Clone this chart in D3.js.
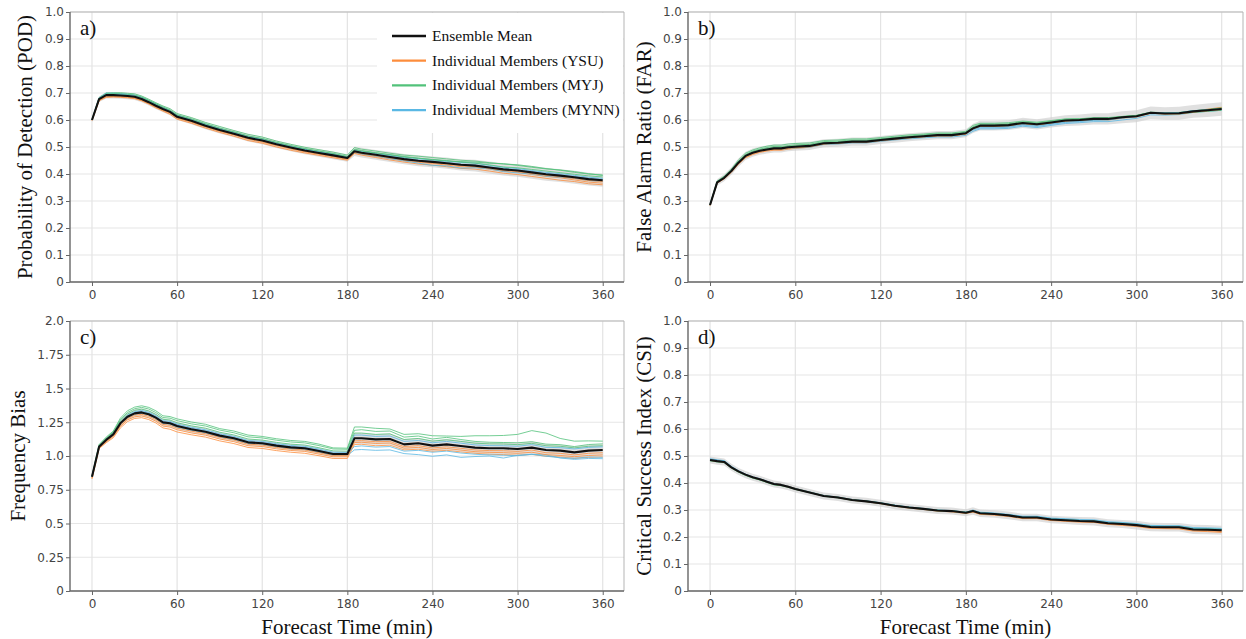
<!DOCTYPE html>
<html><head><meta charset="utf-8">
<script src="https://cdn.jsdelivr.net/npm/d3@7"></script>
<style>body{margin:0;background:#fff}svg{display:block}</style>
</head><body>
<svg id="chart" width="1246" height="639"></svg>
<script>
// ---------------- DATA ----------------
const times = [0,5,10,15,20,25,30,35,40,45,50,55,60,70,80,90,100,110,120,130,140,150,160,170,180,185,190,200,210,220,230,240,250,260,270,280,290,300,310,320,330,340,350,360];
const xTicks = [0,60,120,180,240,300,360];
const unitTicks = [0,0.1,0.2,0.3,0.4,0.5,0.6,0.7,0.8,0.9,1.0];
const unitTickLabels = ["0","0.1","0.2","0.3","0.4","0.5","0.6","0.7","0.8","0.9","1.0"];
const biasTicks = [0,0.25,0.5,0.75,1.0,1.25,1.5,1.75,2.0];
const biasTickLabels = ["0","0.25","0.5","0.75","1.0","1.25","1.5","1.75","2.0"];
const legendLabels = ["Ensemble Mean","Individual Members (YSU)","Individual Members (MYJ)","Individual Members (MYNN)"];
const panelLetters = ["a)","b)","c)","d)"];
const yTitles = ["Probability of Detection (POD)","False Alarm Ratio (FAR)","Frequency Bias","Critical Success Index (CSI)"];
const xTitle = "Forecast Time (min)";

// a) POD
const podMean = [.600,.677,.692,.692,.691,.689,.686,.678,.666,.653,.641,.630,.612,.597,.579,.563,.549,.534,.524,.510,.498,.487,.478,.469,.459,.484,.479,.471,.463,.455,.449,.445,.440,.434,.431,.424,.417,.413,.406,.399,.394,.388,.381,.377];
const podSpread = [.008,.010,.012,.012,.012,.012,.012,.012,.012,.012,.012,.012,.012,.013,.013,.013,.013,.014,.014,.014,.014,.014,.014,.014,.014,.017,.018,.018,.019,.019,.020,.020,.021,.021,.022,.022,.023,.023,.024,.024,.024,.024,.024,.024];
const podYSU = [
 [.598,.671,.684,.685,.684,.682,.679,.671,.659,.645,.633,.621,.603,.588,.570,.554,.540,.524,.514,.500,.488,.478,.469,.460,.451,.476,.470,.461,.452,.444,.437,.433,.427,.421,.418,.411,.403,.398,.391,.384,.377,.372,.364,.360],
 [.599,.673,.686,.687,.686,.684,.681,.673,.661,.648,.636,.625,.607,.592,.574,.558,.545,.529,.518,.505,.493,.482,.473,.464,.454,.478,.473,.465,.457,.449,.443,.439,.433,.427,.425,.418,.410,.406,.398,.391,.386,.378,.370,.366],
 [.600,.675,.689,.689,.688,.686,.683,.675,.663,.650,.638,.627,.609,.594,.576,.560,.546,.531,.521,.507,.495,.484,.475,.466,.456,.481,.476,.468,.460,.452,.447,.442,.437,.431,.428,.421,.414,.409,.402,.395,.390,.383,.376,.372]];
const podMYJ = [
 [.601,.683,.700,.701,.701,.699,.697,.689,.677,.664,.652,.642,.624,.609,.591,.576,.561,.547,.537,.522,.510,.499,.490,.481,.470,.498,.492,.485,.477,.470,.466,.461,.456,.451,.448,.442,.437,.434,.428,.420,.414,.406,.400,.396],
 [.600,.680,.697,.698,.697,.695,.692,.685,.673,.660,.648,.637,.619,.604,.586,.570,.556,.541,.531,.517,.505,.494,.485,.476,.465,.492,.487,.479,.471,.463,.458,.454,.450,.444,.440,.434,.426,.423,.417,.411,.405,.399,.393,.389],
 [.600,.679,.695,.696,.695,.693,.691,.683,.672,.659,.646,.635,.618,.603,.585,.569,.555,.540,.531,.516,.504,.493,.484,.475,.464,.490,.485,.478,.472,.465,.459,.453,.448,.446,.444,.440,.438,.432,.425,.419,.415,.409,.401,.395]];
const podMYNN = [
 [.601,.682,.699,.699,.698,.695,.692,.684,.672,.659,.646,.635,.617,.601,.583,.567,.553,.538,.528,.514,.502,.491,.482,.473,.462,.488,.484,.476,.469,.462,.457,.452,.448,.443,.440,.432,.425,.420,.413,.406,.401,.395,.388,.384],
 [.600,.678,.694,.694,.693,.691,.688,.680,.668,.655,.643,.632,.614,.598,.580,.564,.550,.535,.525,.511,.499,.488,.479,.470,.460,.480,.474,.466,.457,.449,.440,.432,.430,.422,.423,.419,.409,.404,.400,.392,.388,.384,.376,.372],
 [.600,.679,.695,.695,.694,.692,.689,.681,.669,.656,.644,.633,.615,.600,.582,.566,.552,.537,.527,.513,.501,.490,.481,.472,.461,.486,.481,.472,.466,.458,.452,.448,.444,.437,.434,.427,.421,.416,.410,.402,.397,.391,.384,.380]];

// b) FAR
const farMean = [.285,.369,.386,.411,.442,.467,.479,.486,.491,.495,.495,.499,.501,.504,.514,.516,.520,.520,.526,.531,.536,.540,.544,.544,.551,.569,.579,.579,.581,.589,.584,.591,.598,.600,.604,.604,.610,.614,.627,.624,.625,.632,.636,.641];
const farSpread = [.008,.012,.013,.014,.015,.015,.015,.015,.015,.015,.015,.015,.015,.015,.015,.015,.015,.015,.015,.015,.015,.015,.015,.015,.015,.017,.018,.018,.018,.019,.019,.019,.020,.020,.021,.021,.022,.022,.023,.023,.024,.024,.025,.025];
const farYSU = [
 [.283,.366,.382,.406,.436,.460,.472,.480,.485,.488,.488,.492,.495,.499,.510,.512,.516,.516,.522,.527,.532,.536,.540,.540,.547,.566,.576,.576,.577,.585,.581,.588,.595,.598,.601,.602,.608,.613,.626,.625,.625,.632,.638,.645],
 [.284,.367,.384,.408,.439,.463,.475,.483,.488,.491,.491,.495,.497,.501,.511,.514,.518,.518,.524,.529,.534,.538,.542,.542,.549,.568,.578,.578,.580,.588,.583,.590,.597,.600,.604,.603,.609,.614,.628,.626,.626,.633,.640,.647],
 [.284,.368,.385,.410,.440,.465,.477,.484,.489,.493,.493,.497,.499,.503,.512,.515,.519,.519,.525,.530,.535,.539,.543,.543,.550,.567,.577,.577,.579,.587,.582,.589,.596,.598,.602,.600,.607,.611,.625,.622,.622,.629,.634,.639]];
const farMYJ = [
 [.287,.374,.392,.418,.452,.477,.489,.497,.503,.507,.507,.511,.513,.515,.524,.526,.530,.530,.535,.540,.545,.548,.552,.552,.558,.580,.588,.588,.590,.596,.592,.598,.604,.605,.608,.609,.613,.617,.628,.626,.626,.633,.638,.644],
 [.286,.372,.390,.414,.447,.472,.485,.492,.498,.502,.502,.505,.508,.510,.520,.522,.526,.526,.531,.536,.541,.545,.549,.549,.555,.575,.585,.585,.586,.593,.589,.596,.603,.604,.608,.606,.612,.616,.625,.623,.623,.628,.632,.636],
 [.285,.371,.388,.413,.445,.470,.482,.490,.495,.499,.499,.503,.505,.508,.517,.519,.523,.523,.529,.534,.538,.542,.546,.547,.553,.572,.582,.582,.584,.591,.587,.593,.600,.602,.606,.607,.613,.617,.629,.627,.628,.634,.639,.645]];
const farMYNN = [
 [.284,.368,.386,.411,.442,.466,.478,.485,.489,.492,.491,.494,.496,.499,.509,.511,.515,.515,.521,.526,.530,.534,.537,.537,.543,.558,.567,.567,.569,.577,.572,.580,.587,.590,.594,.594,.600,.606,.619,.618,.620,.628,.632,.636],
 [.285,.370,.387,.412,.443,.468,.480,.487,.492,.496,.496,.500,.502,.505,.515,.517,.521,.521,.527,.532,.537,.541,.545,.545,.552,.566,.574,.574,.576,.584,.579,.586,.593,.596,.600,.601,.608,.613,.627,.625,.626,.634,.638,.642],
 [.285,.369,.386,.411,.442,.467,.479,.486,.491,.495,.495,.499,.501,.504,.513,.515,.519,.519,.525,.530,.535,.539,.543,.543,.550,.563,.571,.571,.573,.581,.576,.584,.591,.594,.599,.600,.607,.612,.628,.627,.627,.635,.637,.640]];

// c) Frequency Bias
const biasMean = [.847,1.069,1.119,1.160,1.242,1.291,1.316,1.323,1.309,1.284,1.249,1.242,1.222,1.198,1.180,1.151,1.131,1.101,1.094,1.077,1.064,1.057,1.037,1.015,1.015,1.131,1.131,1.123,1.126,1.086,1.094,1.077,1.086,1.074,1.062,1.057,1.057,1.052,1.062,1.044,1.040,1.027,1.040,1.044];
const biasSpread = [.008,.015,.018,.020,.025,.028,.030,.030,.030,.030,.028,.028,.028,.028,.027,.026,.025,.025,.025,.024,.024,.024,.024,.022,.022,.040,.040,.040,.040,.040,.040,.040,.041,.041,.042,.043,.045,.047,.045,.043,.043,.043,.043,.043];
const biasYSU = [
 [.830,1.055,1.098,1.135,1.208,1.255,1.278,1.284,1.270,1.245,1.208,1.198,1.178,1.157,1.140,1.112,1.092,1.063,1.056,1.040,1.028,1.020,1.002,.982,.982,1.085,1.087,1.076,1.080,1.045,1.050,1.035,1.042,1.030,1.020,1.013,1.010,1.005,1.012,.998,.993,.982,.990,.994],
 [.836,1.060,1.105,1.144,1.220,1.268,1.290,1.297,1.283,1.258,1.222,1.214,1.194,1.171,1.154,1.126,1.106,1.076,1.070,1.053,1.041,1.034,1.014,.994,.994,1.100,1.102,1.093,1.096,1.058,1.064,1.048,1.056,1.044,1.032,1.027,1.025,1.020,1.028,1.010,1.004,.995,1.004,1.008],
 [.842,1.064,1.112,1.152,1.230,1.278,1.302,1.309,1.295,1.270,1.234,1.227,1.207,1.184,1.166,1.138,1.118,1.088,1.081,1.064,1.052,1.045,1.025,1.004,1.004,1.112,1.114,1.106,1.108,1.070,1.077,1.060,1.068,1.057,1.045,1.040,1.039,1.034,1.044,1.024,1.020,1.008,1.020,1.024]];
const biasMYJ = [
 [.852,1.085,1.140,1.185,1.280,1.335,1.362,1.372,1.360,1.335,1.298,1.292,1.275,1.252,1.235,1.203,1.185,1.155,1.145,1.128,1.115,1.108,1.088,1.060,1.058,1.215,1.215,1.205,1.200,1.160,1.165,1.150,1.148,1.145,1.150,1.150,1.152,1.160,1.188,1.170,1.130,1.110,1.112,1.110],
 [.850,1.080,1.133,1.178,1.268,1.322,1.350,1.360,1.348,1.322,1.285,1.280,1.262,1.238,1.222,1.192,1.172,1.142,1.134,1.117,1.104,1.097,1.077,1.052,1.050,1.190,1.195,1.182,1.185,1.140,1.148,1.126,1.138,1.122,1.108,1.102,1.100,1.098,1.106,1.088,1.084,1.070,1.085,1.090],
 [.848,1.075,1.128,1.172,1.258,1.310,1.338,1.347,1.334,1.308,1.272,1.266,1.246,1.223,1.206,1.176,1.156,1.126,1.118,1.101,1.088,1.081,1.061,1.038,1.036,1.170,1.170,1.160,1.164,1.122,1.130,1.110,1.120,1.108,1.095,1.090,1.089,1.084,1.094,1.076,1.072,1.060,1.072,1.076]];
const biasMYNN = [
 [.845,1.068,1.116,1.156,1.236,1.285,1.310,1.318,1.304,1.278,1.242,1.235,1.214,1.190,1.172,1.142,1.122,1.092,1.085,1.068,1.055,1.048,1.028,1.006,1.005,1.045,1.048,1.042,1.045,1.018,1.010,.998,1.008,.990,.996,1.000,.985,1.005,1.012,1.008,.985,.975,.982,.980],
 [.846,1.070,1.120,1.162,1.245,1.296,1.322,1.330,1.316,1.290,1.254,1.248,1.228,1.204,1.186,1.157,1.137,1.107,1.100,1.083,1.070,1.063,1.043,1.020,1.018,1.070,1.075,1.066,1.070,1.036,1.042,1.028,1.036,1.022,1.013,1.008,1.006,1.002,1.013,.998,.988,.983,.993,.990],
 [.848,1.072,1.124,1.166,1.250,1.302,1.328,1.337,1.323,1.298,1.262,1.256,1.236,1.212,1.194,1.165,1.145,1.115,1.108,1.091,1.078,1.071,1.051,1.028,1.026,1.155,1.155,1.145,1.148,1.108,1.115,1.098,1.108,1.095,1.082,1.077,1.076,1.072,1.084,1.064,1.062,1.052,1.064,1.068]];

// d) CSI
const csiMean = [.485,.481,.478,.458,.443,.431,.421,.414,.405,.396,.393,.386,.378,.365,.352,.346,.337,.332,.325,.316,.309,.304,.298,.296,.290,.296,.288,.285,.280,.272,.272,.265,.262,.259,.258,.251,.248,.244,.237,.236,.236,.228,.227,.225];
const csiSpread = [.013,.013,.013,.013,.013,.013,.013,.013,.013,.013,.013,.013,.013,.013,.013,.013,.013,.013,.013,.013,.013,.013,.013,.013,.013,.014,.014,.014,.014,.014,.014,.014,.014,.015,.015,.015,.015,.016,.016,.016,.016,.017,.017,.017];
const csiYSU = [
 [.486,.482,.479,.459,.444,.432,.422,.415,.406,.398,.395,.388,.380,.366,.352,.346,.336,.331,.323,.314,.307,.302,.296,.293,.287,.292,.284,.281,.276,.268,.268,.261,.258,.255,.254,.247,.243,.239,.232,.231,.230,.222,.220,.217],
 [.485,.481,.478,.458,.443,.431,.421,.414,.405,.397,.394,.387,.379,.366,.353,.347,.338,.333,.325,.316,.309,.304,.298,.295,.289,.294,.286,.283,.278,.270,.270,.263,.260,.257,.256,.249,.245,.241,.234,.233,.233,.225,.223,.220],
 [.484,.480,.477,.457,.442,.430,.420,.413,.404,.395,.392,.385,.377,.365,.352,.346,.337,.332,.325,.316,.309,.304,.298,.296,.290,.295,.287,.284,.279,.271,.271,.264,.261,.258,.257,.250,.247,.243,.236,.235,.235,.227,.226,.223]];
const csiMYJ = [
 [.482,.478,.475,.455,.440,.428,.418,.411,.402,.393,.390,.384,.376,.364,.352,.346,.337,.333,.326,.317,.310,.305,.299,.297,.292,.298,.290,.287,.282,.275,.275,.268,.265,.262,.261,.254,.252,.248,.241,.240,.240,.232,.231,.229],
 [.484,.480,.477,.457,.441,.429,.419,.412,.403,.394,.391,.385,.377,.365,.351,.345,.336,.331,.324,.315,.308,.303,.297,.295,.289,.295,.287,.284,.279,.272,.272,.265,.263,.260,.259,.252,.250,.246,.238,.237,.238,.230,.229,.228],
 [.486,.482,.479,.459,.443,.430,.420,.413,.404,.395,.392,.386,.378,.366,.353,.347,.338,.333,.326,.317,.310,.305,.299,.297,.291,.297,.289,.286,.281,.273,.273,.266,.264,.261,.260,.252,.249,.245,.239,.238,.238,.230,.229,.227]];
const csiMYNN = [
 [.490,.486,.483,.462,.446,.433,.423,.416,.407,.398,.395,.388,.380,.367,.354,.348,.339,.334,.327,.318,.311,.306,.300,.298,.292,.300,.292,.289,.284,.277,.277,.270,.268,.265,.264,.257,.254,.250,.243,.242,.242,.235,.234,.232],
 [.488,.484,.481,.460,.444,.432,.422,.415,.406,.397,.394,.387,.379,.366,.353,.347,.338,.333,.326,.317,.310,.305,.299,.297,.291,.298,.290,.287,.282,.275,.275,.268,.265,.262,.261,.254,.251,.247,.240,.239,.239,.231,.230,.229],
 [.487,.483,.480,.459,.443,.431,.421,.414,.405,.396,.393,.386,.378,.365,.352,.346,.337,.332,.325,.316,.309,.304,.298,.296,.290,.297,.289,.286,.281,.274,.274,.267,.264,.261,.260,.253,.250,.246,.239,.238,.238,.230,.229,.227]];

// ---------------- STYLE / LAYOUT ----------------
const colors = {mean:"#111111", ysu:"#fd8d3c", myj:"#52c27a", mynn:"#5ab8e4"};
const serif = "'Liberation Serif','Times New Roman',serif";
const sans = "'DejaVu Sans','Noto Sans',sans-serif";

const panels = [
  {mean:podMean, spread:podSpread, ysu:podYSU, myj:podMYJ, mynn:podMYNN, ticks:unitTicks, labels:unitTickLabels, ymax:1.0,
   box:{l:70,r:624,t:12,b:282}, legend:true, tOff:38},
  {mean:farMean, spread:farSpread, ysu:farYSU, myj:farMYJ, mynn:farMYNN, ticks:unitTicks, labels:unitTickLabels, ymax:1.0,
   box:{l:688,r:1243,t:12,b:282}, tOff:37},
  {mean:biasMean, spread:biasSpread, ysu:biasYSU, myj:biasMYJ, mynn:biasMYNN, ticks:biasTicks, labels:biasTickLabels, ymax:2.0,
   box:{l:70,r:624,t:321,b:591}, xtitle:true, tOff:45},
  {mean:csiMean, spread:csiSpread, ysu:csiYSU, myj:csiMYJ, mynn:csiMYNN, ticks:unitTicks, labels:unitTickLabels, ymax:1.0,
   box:{l:688,r:1243,t:321,b:591}, xtitle:true, tOff:37}
];

const svg = d3.select("#chart");

panels.forEach((p, i) => {
  const B = p.box;
  const x = d3.scaleLinear().domain([-15.5, 375]).range([B.l, B.r]);
  const y = d3.scaleLinear().domain([0, p.ymax]).range([B.b, B.t]);
  const g = svg.append("g");

  // gridlines
  g.append("g").selectAll("line").data(p.ticks).join("line")
    .attr("x1", B.l).attr("x2", B.r).attr("y1", d => y(d)).attr("y2", d => y(d))
    .attr("stroke", "#e6e6e6").attr("stroke-width", 1.2);
  g.append("g").selectAll("line").data(xTicks).join("line")
    .attr("x1", d => x(d)).attr("x2", d => x(d)).attr("y1", B.t).attr("y2", B.b)
    .attr("stroke", "#e3e3e3").attr("stroke-width", 1.2);

  // spread band
  const area = d3.area().x((d, k) => x(times[k]))
    .y0((d, k) => y(p.mean[k] - p.spread[k])).y1((d, k) => y(p.mean[k] + p.spread[k]));
  g.append("path").datum(p.mean).attr("d", area).attr("fill", "#cccccc").attr("fill-opacity", 0.6);

  const line = d3.line().x((d, k) => x(times[k])).y(d => y(d));
  const groups = [["ysu", p.ysu], ["myj", p.myj], ["mynn", p.mynn]];
  for (let m = 0; m < 3; m++) {
    groups.forEach(([key, arr]) => {
      g.append("path").datum(arr[m]).attr("d", line).attr("fill", "none")
        .attr("stroke", colors[key]).attr("stroke-width", 1).attr("stroke-opacity", 0.8);
    });
  }
  g.append("path").datum(p.mean).attr("d", line).attr("fill", "none")
    .attr("stroke", colors.mean).attr("stroke-width", 2.1).attr("stroke-linejoin", "round");

  // frame
  g.append("line").attr("x1", B.l).attr("x2", B.r).attr("y1", B.t).attr("y2", B.t).attr("stroke", "#b5b5b5");
  g.append("line").attr("x1", B.r).attr("x2", B.r).attr("y1", B.t).attr("y2", B.b).attr("stroke", "#b5b5b5");

  // axes
  const yAxis = d3.axisLeft(y).tickValues(p.ticks).tickFormat((d, k) => p.labels[k]).tickSize(4).tickPadding(2);
  const ya = g.append("g").attr("transform", `translate(${B.l},0)`).call(yAxis);
  const xAxis = d3.axisBottom(x).tickValues(xTicks).tickFormat(d3.format("d")).tickSize(4).tickPadding(4);
  const xa = g.append("g").attr("transform", `translate(0,${B.b})`).call(xAxis);
  [ya, xa].forEach(a => {
    a.select(".domain").attr("stroke", "#666").attr("stroke-width", 1.4);
    a.selectAll(".tick line").attr("stroke", "#666");
    a.selectAll(".tick text").attr("fill", "#444").style("font-family", sans).style("font-size", "12px");
  });
  ya.select(".domain").attr("d", `M0,${B.b}V${B.t}`);
  xa.select(".domain").attr("d", `M${B.l},0H${B.r}`);

  // y title
  g.append("text").attr("transform", `translate(${B.l - p.tOff},${(B.t + B.b) / 2}) rotate(-90)`)
    .attr("text-anchor", "middle").style("font-family", serif).style("font-size", "21px").attr("fill", "#111")
    .text(yTitles[i]);
  // panel letter
  g.append("text").attr("x", B.l + 10).attr("y", B.t + 23).style("font-family", serif).style("font-size", "21px")
    .attr("fill", "#111").text(panelLetters[i]);
  // x title
  if (p.xtitle) {
    g.append("text").attr("x", (B.l + B.r) / 2).attr("y", 634).attr("text-anchor", "middle")
      .style("font-family", serif).style("font-size", "21px").attr("fill", "#111").text(xTitle);
  }

  // legend
  if (p.legend) {
    const lg = g.append("g");
    lg.append("rect").attr("x", 377).attr("y", B.t + 1).attr("width", B.r - 378).attr("height", 120).attr("fill", "#fff");
    const lc = [colors.mean, colors.ysu, colors.myj, colors.mynn];
    legendLabels.forEach((lab, k) => {
      const yy = 36 + k * 24.7;
      lg.append("line").attr("x1", 392).attr("x2", 426).attr("y1", yy).attr("y2", yy)
        .attr("stroke", lc[k]).attr("stroke-width", k === 0 ? 2.6 : 2.2);
      lg.append("text").attr("x", 432).attr("y", yy + 5).style("font-family", serif).style("font-size", "15.5px")
        .attr("fill", "#111").text(lab);
    });
  }
});
</script>
</body></html>
